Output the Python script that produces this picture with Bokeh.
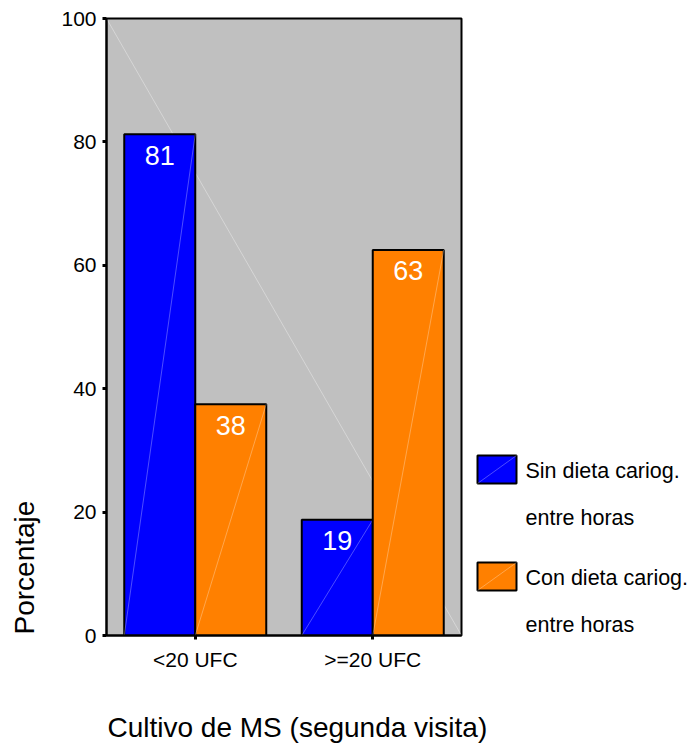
import math
from bokeh.plotting import figure
from bokeh.models import Range1d, FixedTicker, ColumnDataSource
from bokeh.layouts import row, column
from bokeh.core.properties import value
from bokeh.embed import file_html
from bokeh.resources import INLINE

# ---- data ----
categories = ["<20 UFC", ">=20 UFC"]
series_names = ["Sin dieta cariog.\nentre horas", "Con dieta cariog.\nentre horas"]
sin_dieta = [81.25, 18.75]
con_dieta = [37.5, 62.5]
series_values = [sin_dieta, con_dieta]
series_colors = ["#0000FF", "#FF8000"]
y_ticks = [0, 20, 40, 60, 80, 100]
x_title = "Cultivo de MS (segunda visita)"
y_title = "Porcentaje"

FONT = "Liberation Sans"
BG = "#C0C0C0"

# layout (pixels, page coordinates)
YT_W = 50                      # strip holding the y title
B_LEFT, B_TOP, FRAME_W, FRAME_H, B_RIGHT, B_BOTTOM = 56, 18, 355, 617, 10, 45
MAIN_W = B_LEFT + FRAME_W + B_RIGHT
MAIN_H = B_TOP + FRAME_H + B_BOTTOM
LEG_W = 220
TOTAL_W = YT_W + MAIN_W + LEG_W
XT_H = 64                      # strip holding the x title
frame_top_px = B_TOP
frame_bot_px = B_TOP + FRAME_H
frame_left_px = YT_W + B_LEFT + 1

positions = [i + 1 for i in range(len(categories))]
bar_w = 0.4
offsets = [-0.2, 0.2]
x_lo, x_hi = 0.5, len(categories) + 0.5

p = figure(width=MAIN_W, height=MAIN_H,
           x_range=Range1d(x_lo, x_hi), y_range=Range1d(0, 100),
           output_backend="svg", toolbar_location=None,
           min_border_left=B_LEFT, min_border_right=B_RIGHT,
           min_border_top=B_TOP, min_border_bottom=B_BOTTOM,
           background_fill_color=BG, border_fill_color="white",
           outline_line_color="black", outline_line_width=2)
p.grid.visible = False

# faint background diagonal (rendering artifact of original)
p.segment(x0=[x_lo], y0=[100], x1=[x_hi], y1=[0],
          line_color="white", line_alpha=0.35, line_width=1)

for vals, off, col in zip(series_values, offsets, series_colors):
    xs = [pos + off for pos in positions]
    src = ColumnDataSource(dict(x=xs, top=vals,
                                left=[x - bar_w / 2 for x in xs],
                                right=[x + bar_w / 2 for x in xs],
                                zero=[0] * len(xs),
                                lab=[str(int(v + 0.5)) for v in vals]))
    p.vbar(x="x", top="top", width=bar_w, bottom=0, source=src,
           fill_color=col, line_color="black", line_width=2)
    p.segment(x0="left", y0="zero", x1="right", y1="top", source=src,
              line_color="white", line_alpha=0.3, line_width=1)
    p.text(x="x", y="top", text="lab", source=src, text_color="white",
           text_font=value(FONT), text_font_size="27px",
           text_align="center", text_baseline="middle", y_offset=21)

# axes styling
p.xaxis.ticker = FixedTicker(ticks=positions)
p.xaxis.major_label_overrides = {pos: c for pos, c in zip(positions, categories)}
p.yaxis.ticker = FixedTicker(ticks=y_ticks)
for ax in (p.xaxis[0], p.yaxis[0]):
    ax.axis_line_color = "black"
    ax.axis_line_width = 2
    ax.major_tick_line_color = "black"
    ax.major_tick_line_width = 3
    ax.major_tick_in = 0
    ax.major_tick_out = 4
    ax.minor_tick_line_color = None
    ax.major_label_text_font = FONT
    ax.major_label_text_font_size = "21px"
    ax.major_label_text_color = "black"
p.xaxis.major_label_standoff = 8
p.yaxis.major_label_standoff = 6

def strip(width, height, xr, yr):
    f = figure(width=width, height=height, x_range=xr, y_range=yr,
               output_backend="svg", toolbar_location=None,
               x_axis_location=None, y_axis_location=None,
               min_border=0, outline_line_color=None,
               background_fill_color="white", border_fill_color="white")
    f.grid.visible = False
    return f

# ---- y title strip (frame aligned with main frame by the row layout) ----
yt = strip(YT_W, MAIN_H, Range1d(0, YT_W), Range1d(frame_bot_px, frame_top_px))
yt.text(x=[23.5], y=[frame_bot_px - 1], text=[y_title], angle=math.pi / 2,
        text_color="black", text_font=value(FONT), text_font_size="28px",
        text_align="left", text_baseline="middle")

# ---- legend strip ----
lf = strip(LEG_W, MAIN_H, Range1d(YT_W + MAIN_W, TOTAL_W), Range1d(frame_bot_px, frame_top_px))
leg_top = 455
leg_step = 107
box_l, box_r, box_h = 477, 516, 28
text_x = 525
for i, (name, col) in enumerate(zip(series_names, series_colors)):
    t = leg_top + i * leg_step
    lf.quad(left=[box_l], right=[box_r], top=[t], bottom=[t + box_h],
            fill_color=col, line_color="black", line_width=2)
    lf.segment(x0=[box_l], y0=[t + box_h], x1=[box_r], y1=[t],
               line_color="white", line_alpha=0.3, line_width=1)
    lines = name.split("\n")
    lf.text(x=[text_x] * len(lines), y=[t + 15 + j * 47 for j in range(len(lines))],
            text=lines, text_color="black", text_font=value(FONT),
            text_font_size="21.5px", text_align="left", text_baseline="middle")

# ---- x title strip ----
xt = strip(TOTAL_W, XT_H, Range1d(0, TOTAL_W), Range1d(MAIN_H + XT_H, MAIN_H))
xt.text(x=[frame_left_px], y=[727], text=[x_title],
        text_color="black", text_font=value(FONT), text_font_size="28px",
        text_align="left", text_baseline="middle")

layout = column(row(yt, p, lf), xt)
open("out.html", "w").write(file_html(layout, INLINE))
